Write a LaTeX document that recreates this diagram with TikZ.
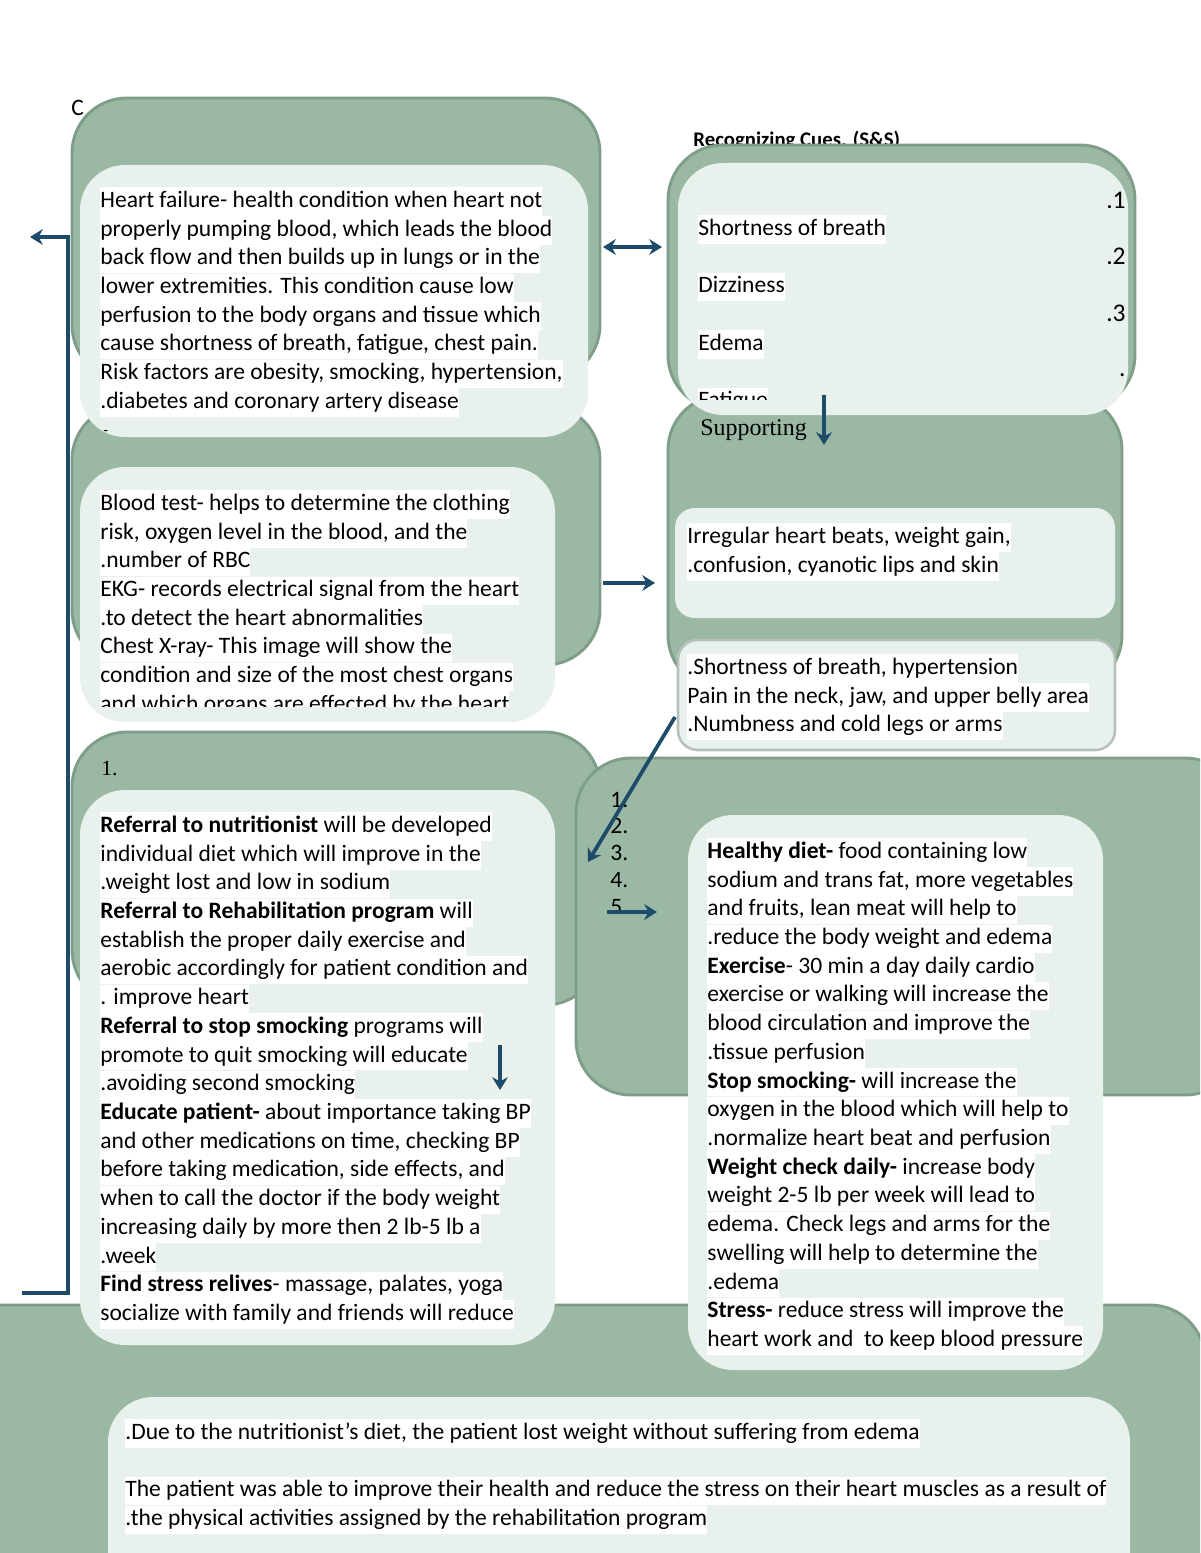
\documentclass[tikz,border=0pt]{standalone}
\usepackage{fontspec}
\setmainfont{Carlito}
\newfontfamily\headfont{Liberation Serif}
\usetikzlibrary{arrows.meta,positioning}

\definecolor{sage}{HTML}{9BB8A5}
\definecolor{sageedge}{HTML}{7F9E8A}
\definecolor{mist}{HTML}{E9F1EC}
\definecolor{inkblue}{HTML}{1D4B69}
\definecolor{greyedge}{HTML}{B8C0BB}

% white highlight behind each printed line
\newcommand\hl[1]{{\setlength{\fboxsep}{0pt}\colorbox{white}{\rule[-4.3pt]{0pt}{14.5pt}#1}}}

\tikzset{
  outerbox/.style={fill=sage,draw=sageedge,line width=1.5pt,rounded corners=28pt},
  innerbox/.style={fill=mist,rounded corners=23pt},
  smallbox/.style={fill=mist,rounded corners=10pt},
  txt/.style={anchor=north west,inner sep=0pt,align=left,font=\fontsize{12}{14.64}\selectfont},
  numtxt/.style={anchor=west,inner sep=0pt,font=\fontsize{12}{14}\selectfont},
  cueline/.style={draw=inkblue,line width=1.9pt,-{Stealth[length=6.5pt,width=8pt]}},
}

\begin{document}
\begin{tikzpicture}[x=0.51pt,y=-0.51pt]
\clip (0,0) rectangle (1200,1553);

% texts partly hidden behind the boxes
\node[anchor=base west,inner sep=0pt,font=\fontsize{12}{14}\selectfont] (cutc) at (71,116) {C};
\node[anchor=base west,inner sep=0pt,font=\bfseries\fontsize{10.6}{12}\selectfont] (cuehead) at (693,147) {Recognizing Cues. (S\&S)};

% left column
\path[outerbox] (72,98) rectangle (600,380);
\path[outerbox] (72,405) rectangle (600,665);
\path[innerbox] (80,165) rectangle (588,437);
\path[innerbox] (80,467) rectangle (555,722);
\path[outerbox] (72,732) rectangle (600,1005);

% right column
\path[outerbox] (668,145) rectangle (1135,410);
\path[outerbox] (668,395) rectangle (1122,690);
\path[innerbox] (678,163) rectangle (1128,415);
\path[smallbox] (675,508) rectangle (1115,618);
\path[smallbox,draw=greyedge,line width=1.3pt] (678,640) rectangle (1115,750);
\path[outerbox] (576,758) rectangle (1240,1095);

% bottom band
\path[outerbox] (-60,1305) rectangle (1205,1640);
\path[innerbox] (80,790) rectangle (555,1345);
\path[innerbox] (688,815) rectangle (1103,1370);
\path[innerbox] (108,1397) rectangle (1130,1640);

\node[txt] (def) at (100,187) {%
\hl{Heart failure- health condition when heart not}\\
\hl{properly pumping blood, which leads the blood}\\
\hl{back flow and then builds up in lungs or in the}\\
\hl{lower extremities. This condition cause low}\\
\hl{perfusion to the body organs and tissue which}\\
\hl{cause shortness of breath, fatigue, chest pain.}\\
\hl{Risk factors are obesity, smocking, hypertension,}\\
\hl{.diabetes and coronary artery disease}};
\node[anchor=west,inner sep=0pt,font=\fontsize{8}{10}\selectfont] (dash) at (103,433) {-};

\begin{scope}
\clip (80,467) rectangle (555,706);
\node[txt] (tests) at (100,490) {%
\hl{Blood test- helps to determine the clothing}\\
\hl{risk, oxygen level in the blood, and the}\\
\hl{.number of RBC}\\
\hl{EKG- records electrical signal from the heart}\\
\hl{.to detect the heart abnormalities}\\
\hl{Chest X-ray- This image will show the}\\
\hl{condition and size of the most chest organs}\\
\hl{and which organs are effected by the heart}};
\end{scope}

\node[anchor=west,inner sep=0pt,font=\headfont\fontsize{11}{13}\selectfont] (one) at (101,769) {1.};

\node[txt] (plan) at (100,812) {%
\hl{\textbf{Referral to nutritionist} will be developed}\\
\hl{individual diet which will improve in the}\\
\hl{.weight lost and low in sodium}\\
\hl{\textbf{Referral to Rehabilitation program} will}\\
\hl{establish the proper daily exercise and}\\
\hl{aerobic accordingly for patient condition and}\\
\hl{. improve heart}\\
\hl{\textbf{Referral to stop smocking} programs will}\\
\hl{promote to quit smocking will educate}\\
\hl{.avoiding second smocking}\\
\hl{\textbf{Educate patient-} about importance taking BP}\\
\hl{and other medications on time, checking BP}\\
\hl{before taking medication, side effects, and}\\
\hl{when to call the doctor if the body weight}\\
\hl{increasing daily by more then 2 lb-5 lb a}\\
\hl{.week}\\
\hl{\textbf{Find stress relives}- massage, palates, yoga}\\
\hl{socialize with family and friends will reduce}};

\begin{scope}
\clip (678,163) rectangle (1128,399);
\node[txt] (cues) at (698,215) {%
\hl{Shortness of breath}\\[14.64pt]
\hl{Dizziness}\\[14.64pt]
\hl{Edema}\\[14.64pt]
\hl{Fatigue}};
\end{scope}
\foreach \lbl/\yy in {.1/200,.2/256,.3/313,./375}
  \node[anchor=east,inner sep=0pt,font=\fontsize{13}{14}\selectfont] (cue\yy) at (1126,\yy) {\lbl};

\node[anchor=west,inner sep=0pt,font=\headfont\fontsize{12.2}{15}\selectfont] (support) at (700,430) {Supporting};

\node[txt] (signs) at (687,523) {%
\hl{Irregular heart beats, weight gain,}\\
\hl{.confusion, cyanotic lips and skin}};
\node[txt] (signsb) at (687,654) {%
\hl{.Shortness of breath, hypertension}\\
\hl{Pain in the neck, jaw, and upper belly area}\\
\hl{.Numbness and cold legs or arms}};

\foreach \n/\yy in {1/800,2/826,3/853,4/880,5/907}
  \node[numtxt] (num\n) at (610,\yy) {\n.};

\node[txt] (care) at (707,838) {%
\hl{\textbf{Healthy diet-} food containing low}\\
\hl{sodium and trans fat, more vegetables}\\
\hl{and fruits, lean meat will help to}\\
\hl{.reduce the body weight and edema}\\
\hl{\textbf{Exercise}- 30 min a day daily cardio}\\
\hl{exercise or walking will increase the}\\
\hl{blood circulation and improve the}\\
\hl{.tissue perfusion}\\
\hl{\textbf{Stop smocking-} will increase the}\\
\hl{oxygen in the blood which will help to}\\
\hl{.normalize heart beat and perfusion}\\
\hl{\textbf{Weight check daily-} increase body}\\
\hl{weight 2-5 lb per week will lead to}\\
\hl{edema. Check legs and arms for the}\\
\hl{swelling will help to determine the}\\
\hl{.edema}\\
\hl{\textbf{Stress-} reduce stress will improve the}\\
\hl{heart work and\ \ to keep blood pressure}};

\node[txt] (outcome) at (125,1419) {%
\hl{.Due to the nutritionist’s diet, the patient lost weight without suffering from edema}\\[14.64pt]
\hl{The patient was able to improve their health and reduce the stress on their heart muscles as a result of}\\
\hl{.the physical activities assigned by the rehabilitation program}};

% connectors
\coordinate (fb-start) at (22,1293);
\coordinate (fb-top) at (68,237);
\coordinate (fb-end) at (30,237);
\draw[draw=inkblue,line width=1.9pt,-{Stealth[length=6.5pt,width=8pt]}] (fb-start) -| (fb-top) -- (fb-end);

\coordinate (link-a) at (603,247);
\coordinate (link-b) at (662,247);
\draw[cueline,{Stealth[length=6.5pt,width=8pt]}-{Stealth[length=6.5pt,width=8pt]}] (link-a) -- (link-b);

\coordinate (test-a) at (603,583);
\coordinate (test-b) at (655,583);
\draw[cueline] (test-a) -- (test-b);

\coordinate (sup-a) at (824,395);
\coordinate (sup-b) at (824,445);
\draw[cueline] (sup-a) -- (sup-b);

\coordinate (diag-a) at (675,717);
\coordinate (diag-b) at (588,862);
\draw[cueline] (diag-a) -- (diag-b);

\coordinate (five-a) at (607,912);
\coordinate (five-b) at (657,912);
\draw[cueline] (five-a) -- (five-b);

\coordinate (plan-a) at (500,1045);
\coordinate (plan-b) at (500,1090);
\draw[cueline] (plan-a) -- (plan-b);
\end{tikzpicture}
\end{document}
